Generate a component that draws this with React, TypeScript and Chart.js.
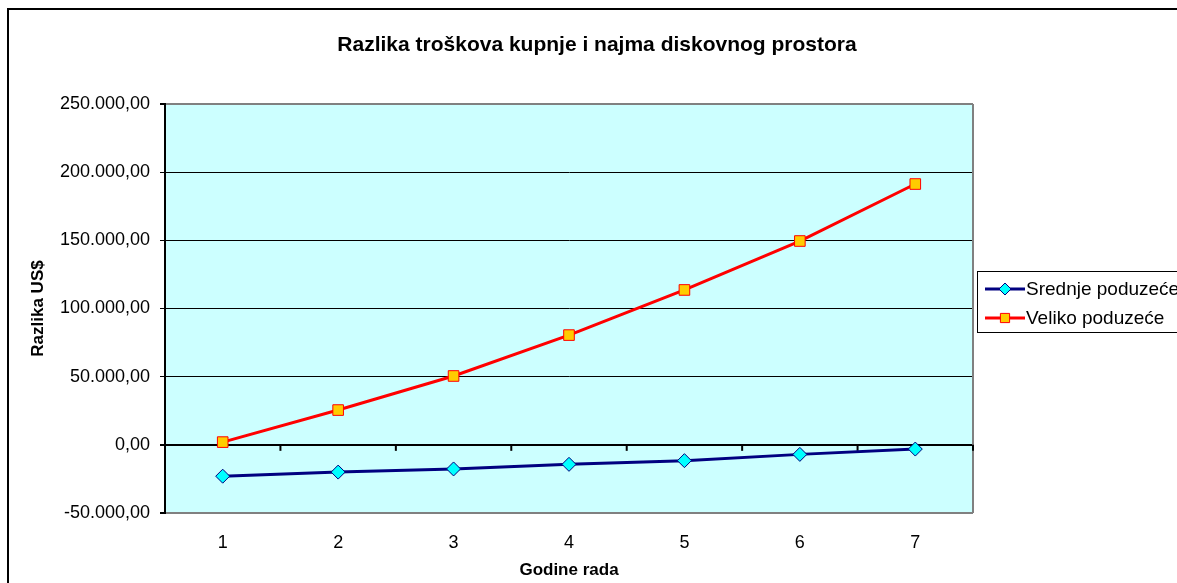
import React, { useEffect, useRef } from 'react';
import { Chart, registerables } from 'chart.js';
import { drawPoint } from 'chart.js/helpers';

Chart.register(...registerables);

const categories = ['1', '2', '3', '4', '5', '6', '7'];
const srednjeValues = [-23000, -20000, -17700, -14300, -11600, -7000, -3100];
const velikoValues = [2000, 25500, 50500, 80500, 113600, 149500, 191300];
const seriesLabels = ['Srednje poduzeće', 'Veliko poduzeće'];
const titleText = 'Razlika troškova kupnje i najma diskovnog prostora';
const xTitle = 'Godine rada';
const yTitle = 'Razlika US$';
const yMin = -50000;
const yMax = 250000;
const yStep = 50000;

const FONT = '"Liberation Sans", Arial, sans-serif';
const W = 1180;
const H = 590;

function fmt(v: number): string {
  const neg = v < 0;
  const a = Math.abs(v);
  const intPart = Math.floor(a).toString().replace(/\B(?=(\d{3})+(?!\d))/g, '.');
  const dec = Math.round((a - Math.floor(a)) * 100).toString().padStart(2, '0');
  return (neg ? '-' : '') + intPart + ',' + dec;
}

const framePlugin = {
  id: 'excelFrame',
  beforeDraw(chart: any) {
    const { ctx, chartArea: a, width, height } = chart;
    ctx.save();
    ctx.fillStyle = '#ffffff';
    ctx.fillRect(0, 0, width, height);
    ctx.fillStyle = '#CCFFFF';
    ctx.fillRect(a.left, a.top, a.right - a.left, a.bottom - a.top);
    ctx.strokeStyle = '#000000';
    ctx.lineWidth = 2;
    ctx.strokeRect(1, 1, width - 2, height - 2);
    // chart title, centred on the whole chart frame
    ctx.fillStyle = '#000000';
    ctx.font = `bold 21px ${FONT}`;
    ctx.textAlign = 'center';
    ctx.textBaseline = 'middle';
    ctx.fillText(titleText, width / 2, 37);
    ctx.restore();
  },
  beforeDatasetsDraw(chart: any) {
    const { ctx, chartArea: a, scales } = chart;
    ctx.save();
    ctx.strokeStyle = '#808080';
    ctx.lineWidth = 2;
    ctx.beginPath();
    ctx.moveTo(a.right, a.top);
    ctx.lineTo(a.right, a.bottom);
    ctx.stroke();
    const y0 = scales.y.getPixelForValue(0);
    ctx.strokeStyle = '#000000';
    ctx.lineWidth = 2;
    for (let i = 0; i <= categories.length; i++) {
      const px = scales.x.getPixelForValue(i - 0.5);
      ctx.beginPath();
      ctx.moveTo(px, y0);
      ctx.lineTo(px, y0 + 6);
      ctx.stroke();
    }
    ctx.restore();
  },
  afterDraw(chart: any) {
    const { ctx, chartArea: a } = chart;
    const ds = chart.data.datasets;
    const boxX = a.right + 4;
    const boxY = 263;
    const rowH = 29;
    ctx.save();
    ctx.fillStyle = '#ffffff';
    ctx.strokeStyle = '#000000';
    ctx.lineWidth = 1;
    ctx.fillRect(boxX, boxY, 215, rowH * ds.length + 3);
    ctx.strokeRect(boxX + 0.5, boxY + 0.5, 215, rowH * ds.length + 3);
    ds.forEach((d: any, i: number) => {
      const cy = boxY + 18 + i * rowH;
      const x1 = boxX + 8;
      const x2 = boxX + 48;
      ctx.strokeStyle = d.borderColor;
      ctx.lineWidth = d.borderWidth;
      ctx.beginPath();
      ctx.moveTo(x1, cy);
      ctx.lineTo(x2, cy);
      ctx.stroke();
      ctx.fillStyle = d.pointBackgroundColor;
      ctx.strokeStyle = d.pointBorderColor;
      ctx.lineWidth = d.pointBorderWidth;
      drawPoint(ctx, { pointStyle: d.pointStyle, rotation: 0, radius: d.pointRadius - 1, borderWidth: d.pointBorderWidth }, (x1 + x2) / 2, cy);
      ctx.fillStyle = '#000000';
      ctx.font = `19px ${FONT}`;
      ctx.textAlign = 'left';
      ctx.textBaseline = 'middle';
      ctx.fillText(d.label, x2 + 1, cy + 1);
    });
    ctx.restore();
  },
};

export default function App() {
  const ref = useRef<HTMLCanvasElement>(null);

  useEffect(() => {
    if (!ref.current) return;
    const chart = new Chart(ref.current, {
      type: 'line',
      data: {
        labels: categories,
        datasets: [
          {
            label: seriesLabels[0],
            data: srednjeValues,
            borderColor: '#000080',
            borderWidth: 3,
            pointStyle: 'rectRot',
            pointRadius: 7,
            pointBackgroundColor: '#00FFFF',
            pointBorderColor: '#000080',
            pointBorderWidth: 1,
            tension: 0,
          },
          {
            label: seriesLabels[1],
            data: velikoValues,
            borderColor: '#FF0000',
            borderWidth: 3,
            pointStyle: 'rect',
            pointRadius: 7.5,
            pointBackgroundColor: '#FFCC00',
            pointBorderColor: '#FF0000',
            pointBorderWidth: 1,
            tension: 0,
          },
        ],
      },
      options: {
        responsive: false,
        animation: false,
        devicePixelRatio: 1,
        layout: { padding: { left: 0, top: 96, right: 214, bottom: 0 } },
        plugins: {
          legend: { display: false },
          tooltip: { enabled: false },
          title: { display: false },
        },
        scales: {
          x: {
            type: 'category',
            offset: true,
            grid: { display: false, drawTicks: false },
            border: { display: false },
            ticks: {
              color: '#000000',
              font: { family: FONT, size: 18 },
              padding: 19,
              maxRotation: 0,
            },
            title: {
              display: true,
              text: xTitle,
              color: '#000000',
              font: { family: FONT, size: 17, weight: 'bold', lineHeight: 1.2 },
              padding: { top: 0, bottom: 17 },
            },
            afterFit(scale: any) {
              scale.height = 85;
            },
          },
          y: {
            min: yMin,
            max: yMax,
            ticks: {
              stepSize: yStep,
              color: '#000000',
              font: { family: FONT, size: 18 },
              padding: 10,
              callback: (v: any) => fmt(Number(v)),
            },
            grid: {
              drawTicks: true,
              tickLength: 5,
              tickColor: '#000000',
              color: (c: any) => (c.tick && (c.tick.value === yMax || c.tick.value === yMin) ? '#808080' : '#000000'),
              lineWidth: (c: any) => (c.tick && (c.tick.value === 0 || c.tick.value === yMax || c.tick.value === yMin) ? 2 : 1),
            },
            border: { display: true, color: '#000000', width: 2 },
            title: {
              display: true,
              text: yTitle,
              color: '#000000',
              font: { family: FONT, size: 17, weight: 'bold', lineHeight: 1.2 },
              padding: { top: 21, bottom: 0 },
            },
            afterFit(scale: any) {
              scale.width = 158;
            },
          },
        },
      },
      plugins: [framePlugin],
    });
    return () => chart.destroy();
  }, []);

  return (
    <div style={{ position: 'fixed', left: 0, top: 0, width: 1177, height: 583, overflow: 'hidden', background: '#ffffff' }}>
      <canvas ref={ref} width={W} height={H} style={{ position: 'absolute', left: 7, top: 8, width: W, height: H }} />
    </div>
  );
}
